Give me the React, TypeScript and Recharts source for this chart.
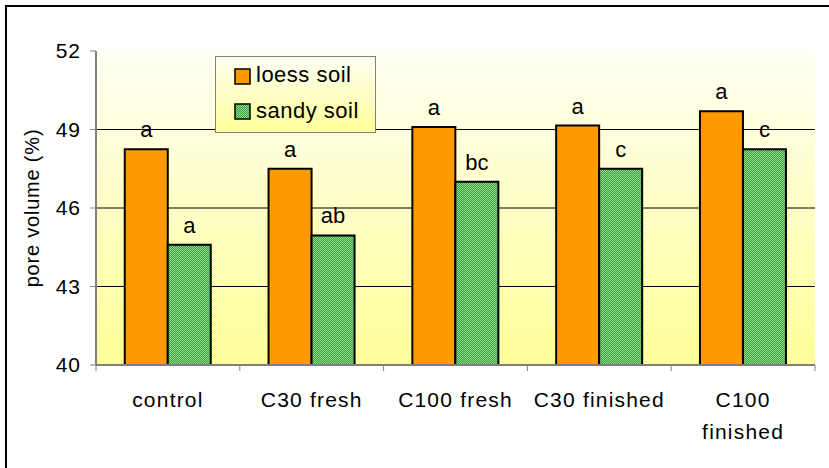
import { Bar, BarChart, CartesianGrid, LabelList, XAxis, YAxis } from "recharts";

const CATEGORIES = ["control", "C30 fresh", "C100 fresh", "C30 finished", "C100 finished"];
const LOESS = [48.25, 47.5, 49.1, 49.15, 49.7];
const SANDY = [44.6, 44.95, 47.0, 47.5, 48.25];
const LOESS_LETTERS = ["a", "a", "a", "a", "a"];
const SANDY_LETTERS = ["a", "ab", "bc", "c", "c"];
const Y_TICKS = [40, 43, 46, 49, 52];

const data = CATEGORIES.map((name, i) => ({
  name,
  loess: LOESS[i],
  sandy: SANDY[i],
  loessLetter: LOESS_LETTERS[i],
  sandyLetter: SANDY_LETTERS[i],
}));

const FONT = "'Liberation Sans', Arial, sans-serif";
const BAND = (815 - 96) / CATEGORIES.length;

function CategoryTick(props: any) {
  const { x, y, payload, index } = props;
  const label: string = payload.value;
  const lines = label.length > 12 ? label.split(" ") : [label];
  return (
    <g>
      <line x1={x - BAND / 2} x2={x - BAND / 2} y1={y - 8} y2={y - 2} stroke="#808080" />
      {index === CATEGORIES.length - 1 && (
        <line x1={x + BAND / 2} x2={x + BAND / 2} y1={y - 8} y2={y - 2} stroke="#808080" />
      )}
      <text x={x} y={y + 34} textAnchor="middle" fontSize={21} letterSpacing={1.2} fontFamily={FONT} fill="#000">
        {lines.map((l, i) => (
          <tspan key={i} x={x} dy={i === 0 ? 0 : 32}>
            {l}
          </tspan>
        ))}
      </text>
    </g>
  );
}

function LegendBox() {
  const items = [
    { label: "loess soil", fill: "#FF9900" },
    { label: "sandy soil", fill: "url(#dots)" },
  ];
  return (
    <div
      style={{
        position: "absolute",
        left: 215,
        top: 56,
        width: 161,
        height: 77,
        border: "1px solid #808080",
        background: "linear-gradient(#FFFFF4, #FFFF99)",
        boxSizing: "border-box",
      }}
    >
      <svg width={161} height={77} style={{ position: "absolute", left: 0, top: 0 }}>
        {items.map((it, i) => (
          <g key={it.label}>
            <rect x={19} y={12 + i * 35} width={15} height={15} fill={it.fill} stroke="#000" strokeWidth={1.5} />
            <text x={40} y={25 + i * 36} fontSize={22} letterSpacing={0.5} fontFamily={FONT} fill="#000">
              {it.label}
            </text>
          </g>
        ))}
      </svg>
    </div>
  );
}

export default function App() {
  return (
    <div style={{ position: "absolute", left: 0, top: 0, width: 829, height: 468, background: "#fff", overflow: "hidden" }}>
      <div
        style={{
          position: "absolute",
          left: 5,
          top: 5,
          width: 830,
          height: 470,
          borderTop: "2px solid #000",
          borderLeft: "2px solid #000",
        }}
      />
      <BarChart
        width={829}
        height={468}
        data={data}
        margin={{ top: 51, right: 14, bottom: 73, left: 36 }}
        barCategoryGap="20%"
        barGap={0}
        style={{ position: "absolute", left: 0, top: 0 }}
      >
        <defs>
          <linearGradient id="bg" x1="0" y1="0" x2="0" y2="1">
            <stop offset="0%" stopColor="#FFFFF4" />
            <stop offset="100%" stopColor="#FFFF99" />
          </linearGradient>
          <pattern id="dots" width={2} height={2} patternUnits="userSpaceOnUse">
            <rect width={2} height={2} fill="#3E9E3E" />
            <rect width={1} height={1} fill="#8EDC8E" />
            <rect x={1} y={1} width={1} height={1} fill="#8EDC8E" />
          </pattern>
        </defs>
        <CartesianGrid
          vertical={false}
          horizontalValues={[43, 46, 49]}
          stroke="#000"
          fill="url(#bg)"
          fillOpacity={1}
        />
        <XAxis
          dataKey="name"
          height={30}
          axisLine={{ stroke: "#808080", strokeWidth: 2 }}
          tickLine={false}
          tick={<CategoryTick />}
          interval={0}
        />
        <XAxis xAxisId="top" orientation="top" dataKey="name" height={0} tick={false} tickLine={false} axisLine={{ stroke: "#808080" }} />
        <YAxis
          domain={[40, 52]}
          ticks={Y_TICKS}
          width={60}
          axisLine={{ stroke: "#808080", strokeWidth: 2 }}
          tickLine={{ stroke: "#808080" }}
          tickSize={6}
          tick={{ fontSize: 21, letterSpacing: 1, fontFamily: FONT, fill: "#000" }}
          tickMargin={9}
          label={{
            value: "pore volume (%)",
            angle: -90,
            position: "insideLeft",
            dx: -9,
            dy: 0,
            style: { fontSize: 20, letterSpacing: 0.8, fontFamily: FONT, fill: "#000", textAnchor: "middle" },
          }}
        />
        <YAxis yAxisId="r" orientation="right" width={0} domain={[40, 52]} tick={false} tickLine={false} axisLine={{ stroke: "#808080" }} />
        <Bar dataKey="loess" fill="#FF9900" stroke="#000" strokeWidth={2} isAnimationActive={false}>
          <LabelList dataKey="loessLetter" position="top" offset={12} style={{ fontSize: 22, fontFamily: FONT, fill: "#000" }} />
        </Bar>
        <Bar dataKey="sandy" fill="url(#dots)" stroke="#000" strokeWidth={2} isAnimationActive={false}>
          <LabelList dataKey="sandyLetter" position="top" offset={12} style={{ fontSize: 22, fontFamily: FONT, fill: "#000" }} />
        </Bar>
      </BarChart>
      <LegendBox />
    </div>
  );
}
